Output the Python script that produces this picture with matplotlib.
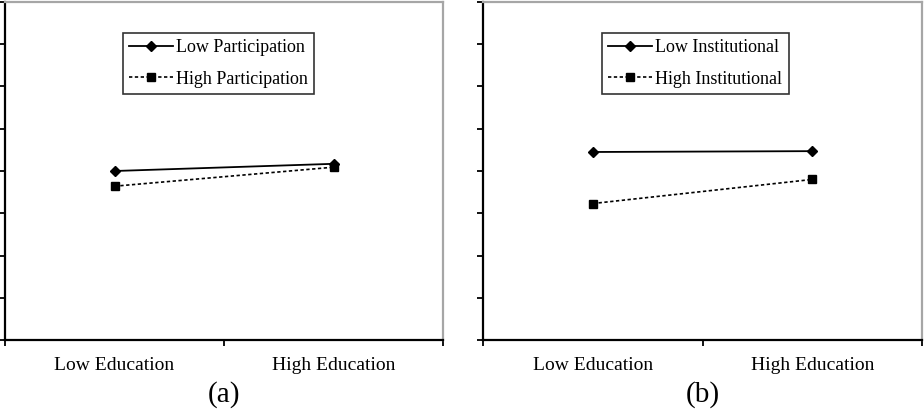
import matplotlib
matplotlib.use("Agg")
import matplotlib.pyplot as plt

plt.rcParams['font.family'] = ['Liberation Serif', 'DejaVu Serif']

education = ["Low Education", "High Education"]

# Panel (a): participation moderator
low_participation = [4.0, 4.17]
high_participation = [3.64, 4.09]

# Panel (b): institutional moderator
low_institutional = [4.45, 4.47]
high_institutional = [3.23, 3.80]

panels = [
    ("(a)", ["Low Participation", "High Participation"], low_participation, high_participation),
    ("(b)", ["Low Institutional", "High Institutional"], low_institutional, high_institutional),
]

W, H = 924, 411
fig = plt.figure(figsize=(W / 100, H / 100), dpi=100)

# pixel boxes of the two plot areas: left, right, top, bottom
boxes = [(5, 443, 2, 340), (483, 922, 2, 340)]
legend_xy = [(123, 33), (602, 33)]

for (tag, names, s1, s2), (l, r, t, b), (lx, ly) in zip(panels, boxes, legend_xy):
    ax = fig.add_axes([l / W, 1 - b / H, (r - l) / W, (b - t) / H])
    xs = [0.5, 1.5]
    ax.plot(xs, s1, color="black", lw=1.3, marker="D", ms=5.5, label=names[0])
    ax.plot(xs, s2, color="black", lw=1.2, ls=(0, (2, 1.5)), marker="s", ms=6,
            label=names[1])
    ax.set_xlim(0, 2)
    ax.set_ylim(0, 8)
    ax.set_yticks(range(0, 9))
    ax.set_yticklabels([])
    ax.set_xticks([0, 1, 2])
    ax.set_xticklabels([])
    ax.set_xticks(xs, minor=True)
    ax.set_xticklabels(education, minor=True, fontsize=14)
    ax.tick_params(axis="x", which="minor", length=0, pad=12)
    ax.tick_params(axis="both", which="major", length=4, width=1.3, direction="out",
                   color="black")
    for side in ("left", "bottom"):
        ax.spines[side].set_color("black")
        ax.spines[side].set_linewidth(1.6)
    for side in ("top", "right"):
        ax.spines[side].set_color("#a6a6a6")
        ax.spines[side].set_linewidth(1.6)
    ax.set_zorder(1)
    leg = ax.legend(loc="upper left",
                    bbox_to_anchor=((lx - l) / (r - l), 1 - (ly - t) / (b - t)),
                    borderaxespad=0, fontsize=13, frameon=True, fancybox=False,
                    edgecolor="black", handlelength=2.4, handletextpad=0.2,
                    borderpad=0.35, labelspacing=0.8)
    leg.get_frame().set_linewidth(1.2)
    fig.text(((l + r) / 2) / W, 1 - 395 / H, tag, ha="center", va="center", fontsize=21)

fig.savefig("out.png", dpi=100, facecolor="white")
